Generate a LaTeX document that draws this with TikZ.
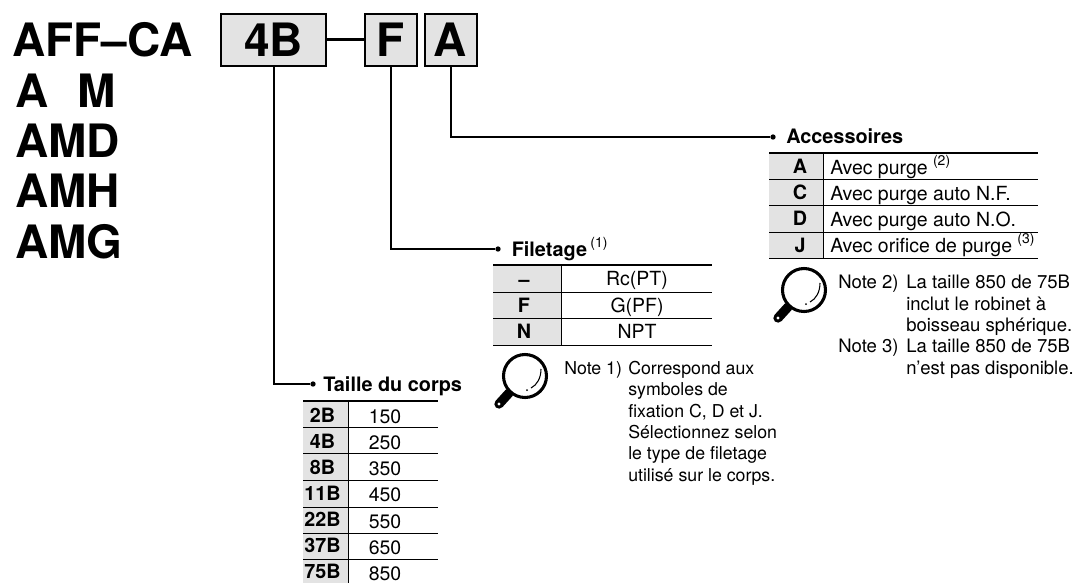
\documentclass[tikz,border=0pt]{standalone}
\usepackage{fontspec}
\setmainfont{TeX Gyre Heros}
\usetikzlibrary{positioning}

\tikzset{
  modelname/.style={inner sep=0pt, anchor=base west, font=\fontsize{34.5}{36}\bfseries},
  codebox/.style={draw, line width=1.5pt, fill=black!11, inner sep=0pt, outer sep=0pt, minimum height=39, minimum width=39,
    font=\fontsize{34.5}{36}\bfseries},
  heading/.style={inner sep=0pt, anchor=base west, font=\fontsize{14.9}{16}\bfseries},
  codecell/.style={inner sep=0pt, anchor=base, font=\fontsize{14.8}{16}\bfseries},
  textcell/.style={inner sep=0pt, font=\fontsize{14.6}{16}\selectfont},
  notetext/.style={inner sep=0pt, anchor=north west, align=left, font=\fontsize{13.9}{16}\selectfont},
  leader/.style={line width=1.5pt},
  startdot/.style={circle, fill, inner sep=0pt, minimum size=4pt},
  rowrule/.style={line width=.75pt},
  toprule/.style={line width=1.5pt},
  graycol/.style={fill=black!11},
  lens/.pic={
    \draw[line width=7pt, line cap=round] (-16,17) -- (-26,28);
    \fill[white] (-26,28) circle (1.7);
    \draw[line width=2.3pt, fill=white] (0,0) circle (21.5);
    \draw[line width=.8pt] (16,-7) .. controls (16,2) and (12,9) .. (6,12);
    \fill (2,14) circle (1);
  }
}
\newcommand{\noteref}[1]{\raisebox{.42em}{\fontsize{10.5}{11}\mdseries(#1)}}

\begin{document}
\begin{tikzpicture}[x=.75pt, y=-.75pt]
  \useasboundingbox (0,0) rectangle (1075,583);

  % model names
  \node[modelname] (nameaff) at (12,56) {AFF--CA};
  \node[modelname] (namea) at (15,107) {A\hspace{.64em}M};
  \node[modelname] (nameamd) at (15,157) {AMD};
  \node[modelname] (nameamh) at (15,207) {AMH};
  \node[modelname] (nameamg) at (15,258) {AMG};

  % code boxes
  \node[codebox, minimum width=79] (boxbody) at (273.5,39.5) {4B};
  \node[codebox] (boxthread) at (391,39.5) {F};
  \node[codebox] (boxacc) at (450.5,39.5) {A};
  \draw[leader, line width=2pt] (boxbody.east) -- (boxthread.west);

  % accessories table
  \fill[graycol] (769,153) rectangle (823,258);
  \draw[toprule] (769,153) -- (1038,153);
  \foreach \y in {179.5, 205.5, 232, 258}
    \draw[rowrule] (769,\y) -- (1038,\y);
  \draw[rowrule] (823,153) -- (823,258);
  \node[heading] (headacc) at (786,143) {Accessoires};
  \foreach \c/\t [count=\i] in {A/Avec purge \noteref{2}, C/Avec purge auto N.F.,
      D/Avec purge auto N.O., J/Avec orifice de purge \noteref{3}} {
    \node[codecell] (acccode\i) at (800,147+26.3*\i) {\c};
    \node[textcell, anchor=base west] (acctext\i) at (830,148+26*\i) {\t};
  }

  % thread table
  \fill[graycol] (493,265) rectangle (561,345);
  \draw[toprule] (493,265) -- (712,265);
  \foreach \y in {292, 318, 345}
    \draw[rowrule] (493,\y) -- (712,\y);
  \draw[rowrule] (561,265) -- (561,345);
  \node[heading] (headthread) at (511.5,256) {Filetage\,\noteref{1}};
  \foreach \c/\t [count=\i] in {--/Rc(PT), F/G(PF), N/NPT} {
    \node[codecell] (threadcode\i) at (524,260+26.3*\i) {\c};
    \node[textcell, anchor=base] (threadtext\i) at (637,259+26.5*\i) {\t};
  }

  % size table
  \fill[graycol] (303,401) rectangle (348,583);
  \draw[toprule] (303,401) -- (438,401);
  \foreach \y in {427, 453, 480, 507, 533, 559}
    \draw[rowrule] (303,\y) -- (438,\y);
  \draw[rowrule] (348,401) -- (348,583);
  \node[heading] (headbody) at (323,391) {Taille du corps};
  \foreach \c/\t [count=\i] in {2B/150, 4B/250, 8B/350, 11B/450, 22B/550, 37B/650, 75B/850} {
    \node[codecell] (bodycode\i) at (322.5,396+26*\i) {\c};
    \node[textcell, anchor=base] (bodytext\i) at (385,397+26.2*\i) {\t};
  }

  % leaders
  \node[startdot] (dotbody) at (313,384) {};
  \node[startdot] (dotthread) at (498,249) {};
  \node[startdot] (dotacc) at (773,137) {};
  \draw[leader] (boxbody.south) |- (dotbody);
  \draw[leader] (boxthread.south) |- (dotthread);
  \draw[leader] (boxacc.south) |- (dotacc);

  % notes
  \pic at (525,376) {lens};
  \pic at (804,290) {lens};
  \node[notetext, font=\fontsize{13.3}{16}\selectfont] (note1) at (564,361) {Note 1)};
  \node[notetext, font=\fontsize{13.3}{16}\selectfont] (note1body) at (628,361) {Correspond aux\\symboles de\\fixation C, D et J.\\S\'electionnez selon\\le type de filetage\\utilis\'e sur le corps.};
  \node[notetext] (note2) at (838,275) {Note 2)\\[\dimexpr 2\baselineskip]Note 3)};
  \node[notetext] (note2body) at (906,275) {La taille 850 de 75B\\inclut le robinet \`a\\boisseau sph\'erique.\\La taille 850 de 75B\\n'est pas disponible.};
\end{tikzpicture}
\end{document}
